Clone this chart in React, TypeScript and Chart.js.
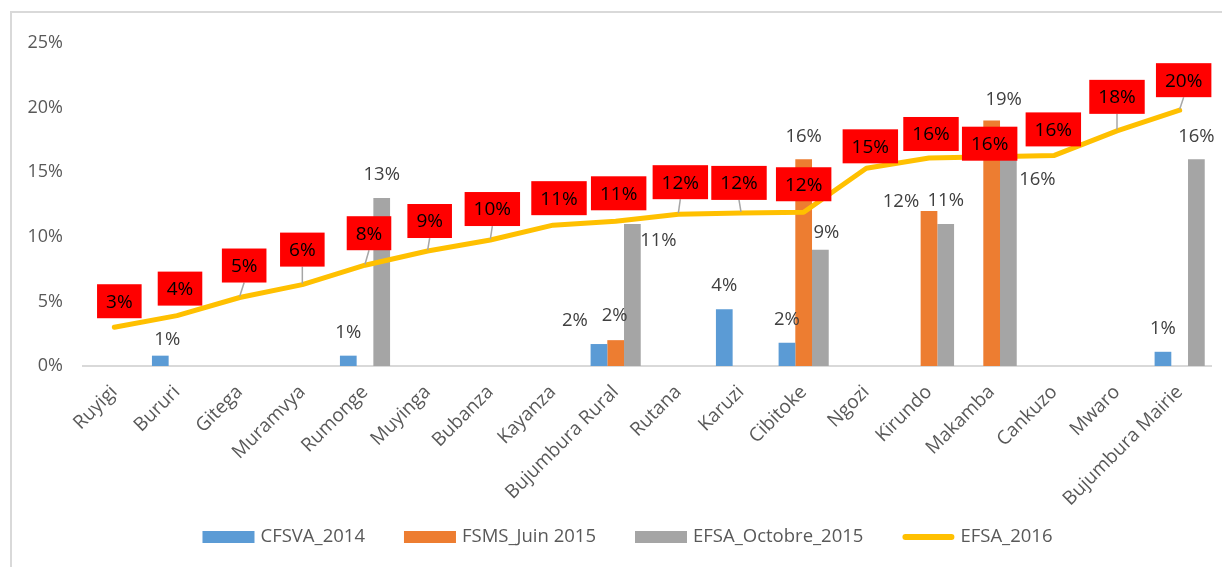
import React, { useEffect, useRef } from "react";
import { Chart, registerables } from "chart.js";

Chart.register(...registerables);

// ---------- DATA ----------
const categories = [
  "Ruyigi", "Bururi", "Gitega", "Muramvya", "Rumonge", "Muyinga", "Bubanza", "Kayanza",
  "Bujumbura Rural", "Rutana", "Karuzi", "Cibitoke", "Ngozi", "Kirundo", "Makamba",
  "Cankuzo", "Mwaro", "Bujumbura Mairie",
];
const cfsva2014 = [null, 0.8, null, null, 0.8, null, null, null, 1.7, null, 4.4, 1.8, null, null, null, null, null, 1.1];
const fsmsJuin2015 = [null, null, null, null, null, null, null, null, 2.0, null, null, 16, null, 12, 19, null, null, null];
const efsaOctobre2015 = [null, null, null, null, 13, null, null, null, 11, null, null, 9, null, 11, 16, null, null, 16];
const efsa2016 = [3.0, 3.9, 5.3, 6.3, 7.8, 8.9, 9.75, 10.9, 11.2, 11.75, 11.85, 11.9, 15.3, 16.1, 16.2, 16.3, 18.2, 19.8];
const seriesNames = ["CFSVA_2014", "FSMS_Juin 2015", "EFSA_Octobre_2015", "EFSA_2016"];
const yTickValues = [0, 5, 10, 15, 20, 25];

// ---------- STYLE ----------
const COLORS = ["#5B9BD5", "#ED7D31", "#A5A5A5", "#FFC000"];
const FONT = '"Open Sans", "Liberation Sans", sans-serif';
const TEXT = "#595959";

// label placement tweaks (pixel offsets of label centre, style only)
const lineLabelOffsets: [number, number][] = [
  [5, -26], [3, -27], [4.5, -32], [0, -35], [4, -32], [2, -30], [2, -31], [6, -27], [3, -28],
  [2, -32], [-2, -30], [0, -28], [4, -22], [2, -24], [-2, -13], [-1, -26], [0, -34], [4, -30],
];
const barLabelOffsets: Record<string, [number, number]> = {
  "0:1": [7, -16],
  "0:8": [-24, -23.5],
  "1:8": [-1, -24],
  "2:8": [26, 17],
  "2:11": [6, -17],
  "1:13": [-28, -9.5],
  "1:14": [12, -20.5],
  "2:14": [29, 20],
};

const labelsPlugin = {
  id: "customLabels",
  beforeDraw(chart: any) {
    const ctx = chart.ctx;
    ctx.save();
    ctx.strokeStyle = "#D9D9D9";
    ctx.lineWidth = 2;
    ctx.beginPath();
    ctx.moveTo(11, chart.height);
    ctx.lineTo(11, 12);
    ctx.lineTo(chart.width, 12);
    ctx.stroke();
    ctx.restore();
  },
  afterDatasetsDraw(chart: any) {
    const ctx = chart.ctx;
    ctx.save();
    // bar labels
    ctx.font = `18.5px ${FONT}`;
    ctx.fillStyle = "#404040";
    ctx.textAlign = "center";
    ctx.textBaseline = "middle";
    for (let d = 0; d < 3; d++) {
      const meta = chart.getDatasetMeta(d);
      const data = chart.data.datasets[d].data;
      meta.data.forEach((bar: any, i: number) => {
        const v = data[i];
        if (v === null || v === undefined) return;
        const off = barLabelOffsets[`${d}:${i}`] || [0, -23];
        ctx.fillText(`${Math.round(v)}%`, bar.x + off[0], bar.y + off[1]);
      });
    }
    // line labels
    const lmeta = chart.getDatasetMeta(3);
    const ldata = chart.data.datasets[3].data;
    lmeta.data.forEach((pt: any, i: number) => {
      const v = ldata[i];
      const txt = `${Math.round(v)}%`;
      const off = lineLabelOffsets[i] || [0, -28];
      const cx = pt.x + off[0];
      const cy = pt.y + off[1];
      ctx.font = `19px ${FONT}`;
      const w = ctx.measureText(txt).width + 18;
      const h = 34;
      const bottom = cy + h / 2;
      if (pt.y - bottom > 12) {
        ctx.strokeStyle = "#A6A6A6";
        ctx.lineWidth = 1.5;
        ctx.beginPath();
        ctx.moveTo(pt.x, pt.y - 1);
        ctx.lineTo(cx, bottom);
        ctx.stroke();
      }
      ctx.fillStyle = "#FF0000";
      ctx.fillRect(cx - w / 2, cy - h / 2, w, h);
      ctx.fillStyle = "#000000";
      ctx.fillText(txt, cx, cy + 1);
    });
    ctx.restore();
  },
  afterDraw(chart: any) {
    const ctx = chart.ctx;
    ctx.save();
    ctx.font = `18.5px ${FONT}`;
    const boxW = 52, gapBoxText = 6, gapItems = 39;
    const widths = seriesNames.map((s) => ctx.measureText(s).width);
    const total = widths.reduce((a, b) => a + b + boxW + gapBoxText, 0) + gapItems * (seriesNames.length - 1);
    let x = 627.5 - total / 2;
    const y = 537;
    seriesNames.forEach((name, i) => {
      if (i < 3) {
        ctx.fillStyle = COLORS[i];
        ctx.fillRect(x, y - 6, boxW, 12);
      } else {
        ctx.strokeStyle = COLORS[i];
        ctx.lineWidth = 6;
        ctx.lineCap = "round";
        ctx.beginPath();
        ctx.moveTo(x + 3, y);
        ctx.lineTo(x + boxW - 3, y);
        ctx.stroke();
      }
      ctx.fillStyle = TEXT;
      ctx.textAlign = "left";
      ctx.textBaseline = "middle";
      ctx.fillText(name, x + boxW + gapBoxText, y);
      x += boxW + gapBoxText + widths[i] + gapItems;
    });
    ctx.restore();
  },
};

export default function App() {
  const ref = useRef<HTMLCanvasElement | null>(null);
  useEffect(() => {
    if (!ref.current) return;
    const barDs = (label: string, data: (number | null)[], color: string) => ({
      type: "bar" as const,
      label,
      data,
      backgroundColor: color,
      borderWidth: 0,
      categoryPercentage: 0.8,
      barPercentage: 1.0,
      order: 1,
    });
    const chart = new Chart(ref.current, {
      type: "bar",
      data: {
        labels: categories,
        datasets: [
          barDs(seriesNames[0], cfsva2014, COLORS[0]),
          barDs(seriesNames[1], fsmsJuin2015, COLORS[1]),
          barDs(seriesNames[2], efsaOctobre2015, COLORS[2]),
          {
            type: "line" as const,
            label: seriesNames[3],
            data: efsa2016,
            borderColor: COLORS[3],
            backgroundColor: COLORS[3],
            borderWidth: 5,
            pointRadius: 0,
            fill: false,
            tension: 0,
            borderJoinStyle: "round",
            borderCapStyle: "round",
            order: 0,
          } as any,
        ],
      },
      options: {
        responsive: false,
        animation: false,
        devicePixelRatio: 1,
        layout: { padding: { top: 43, right: 11, bottom: 0, left: 0 } },
        plugins: { legend: { display: false }, tooltip: { enabled: false } },
        scales: {
          x: {
            offset: true,
            grid: { display: false, drawTicks: false },
            border: { display: true, color: "#D9D9D9", width: 2 },
            ticks: {
              autoSkip: false,
              minRotation: 45,
              maxRotation: 45,
              padding: 15,
              color: TEXT,
              font: { family: FONT, size: 19 },
            },
            afterFit: (s: any) => { s.height = 201; },
          },
          y: {
            min: 0,
            max: 25,
            afterBuildTicks: (s: any) => { s.ticks = yTickValues.map((v) => ({ value: v })); },
            grid: { display: false, drawTicks: false },
            border: { display: false },
            ticks: {
              padding: 20,
              color: TEXT,
              font: { family: FONT, size: 18 },
              callback: (v: any) => `${v}%`,
            },
            afterFit: (s: any) => { s.width = 83; },
          },
        },
      },
      plugins: [labelsPlugin],
    });
    return () => chart.destroy();
  }, []);
  return (
    <div style={{ position: "absolute", left: 0, top: 0, width: 1222, height: 567, background: "#fff" }}>
      <canvas ref={ref} width={1222} height={567} style={{ display: "block", width: 1222, height: 567 }} />
    </div>
  );
}
